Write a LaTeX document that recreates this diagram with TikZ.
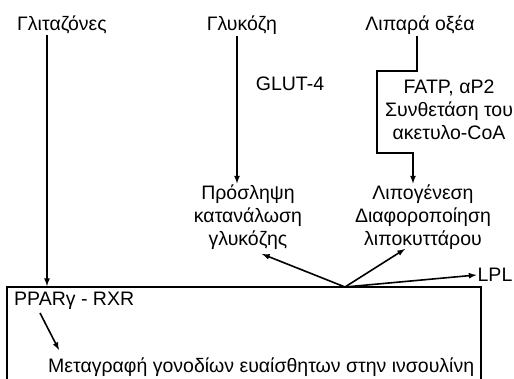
\documentclass[tikz,border=0pt]{standalone}
\usepackage{fontspec}
\setmainfont{Liberation Sans}
\tikzset{
    txt/.style={inner sep=1pt,align=center},
    arr/.style={line width=1.6pt,-latex},
}
\begin{document}
\begin{tikzpicture}[x=1pt,y=-1pt,font=\fontsize{19.5}{23}\selectfont]
\useasboundingbox (0,0) rectangle (514,379);
\clip (0,0) rectangle (514,379);

\coordinate (cGlitPt) at (62,25);
\coordinate (cGlucPt) at (242,25);
\coordinate (cLipPt) at (420,25);
\coordinate (cGlutPt) at (290,84);
\coordinate (cFatpPt) at (449,110);
\coordinate (cUptPt) at (248,217);
\coordinate (cDiffPt) at (423,217);
\coordinate (cLplPt) at (495,275);

\foreach \v/\t in
{cGlitPt/Γλιταζόνες,
    cGlucPt/Γλυκόζη,
    cLipPt/Λιπαρά οξέα,
    cGlutPt/GLUT-4,
    cFatpPt/{FATP, αP2\\Συνθετάση του\\ακετυλο-CoA},
    cUptPt/{Πρόσληψη\\κατανάλωση\\γλυκόζης},
    cDiffPt/{Λιπογένεση\\Διαφοροποίηση\\λιποκυττάρου},
    cLplPt/LPL}
{
    \node[txt] (\v-t) at (\v) {\t};
};

% nucleus box
\draw[line width=1.6pt] (7,400) -- (7,287) -- (481,287) -- (481,400);
\node[txt,anchor=west] (nPpar) at (13,301) {PPARγ - RXR};
\node[txt,anchor=west] (nTrans) at (47,367) {Μεταγραφή γονοδίων ευαίσθητων στην ινσουλίνη};
\coordinate (cHubPt) at (345,287);
\coordinate (cGlitEnd) at (47,286);

\draw[arr] (cGlitPt-t.south -| cGlitEnd) -- (cGlitEnd);
\draw[arr] (cGlucPt-t.south -| 237,0) -- (cUptPt-t.north -| 237,0);
\draw[arr] (cLipPt-t.south -| 417,0) -- (417,71) -- (377,71) -- (377,153) -- (413,153) -- (cDiffPt-t.north -| 413,0);
\draw[arr] (cHubPt) -- (262,254);
\draw[arr] (cHubPt) -- (405,249);
\draw[arr] (cHubPt) -- (cLplPt-t.west);
\draw[arr] (40,313) -- (59,350);

\end{tikzpicture}
\end{document}
